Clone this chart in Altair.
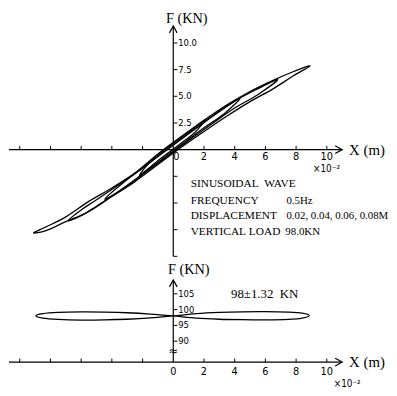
import altair as alt
import pandas as pd

# ---------------- data (X in 10^-2 m, F in kN) ----------------
# upper panel: four hysteresis loops (displacement 0.02, 0.04, 0.06, 0.08 m)
LOOP08_X = [8.9, 7.8, 6.5, 5.0, 3.5, 2.0, 0.5, -1.0, -2.5, -4.0, -5.5, -7.0, -8.3, -9.1,
            -8.3, -7.0, -5.5, -4.0, -2.5, -1.0, 0.5, 2.0, 3.5, 5.0, 6.5, 7.8]
LOOP08_F = [7.85, 7.3, 6.5, 5.45, 4.2, 2.75, 1.2, -0.4, -2.2, -3.6, -4.85, -6.3, -7.25, -7.8,
            -7.6, -6.75, -5.8, -4.4, -3.0, -1.4, 0.2, 1.7, 3.15, 4.5, 5.7, 6.9]

LOOP06_X = [6.8, 5.5, 4.0, 2.5, 1.0, -0.5, -2.0, -3.5, -5.0, -6.0, -6.85,
            -6.0, -5.0, -3.5, -2.0, -0.5, 1.0, 2.5, 4.0, 5.5]
LOOP06_F = [6.55, 5.7, 4.55, 3.05, 1.5, -0.1, -1.7, -3.25, -4.7, -5.65, -6.65,
            -6.2, -5.3, -3.85, -2.3, -0.75, 0.85, 2.4, 3.9, 5.15]

LOOP04_X = [4.35, 3.3, 2.0, 0.7, -0.7, -2.0, -3.3, -4.45, -3.3, -2.0, -0.7, 0.7, 2.0, 3.3]
LOOP04_F = [4.8, 3.9, 2.6, 1.2, -0.3, -1.75, -3.15, -4.65, -3.7, -2.3, -0.85, 0.65, 2.05, 3.35]

LOOP02_X = [2.1, 1.4, 0.7, 0.0, -0.7, -1.4, -2.2, -1.4, -0.7, 0.0, 0.7, 1.4]
LOOP02_F = [2.8, 2.1, 1.35, 0.6, -0.15, -0.95, -2.4, -1.5, -0.7, 0.05, 0.8, 1.6]

# lower panel: vertical load loop (98 +/- 1.32 kN)
VLOOP_X = [0.0, 1.5, 3.0, 4.5, 6.0, 7.5, 8.4, 8.85, 8.4, 7.5, 6.0, 4.5, 3.0, 1.5,
           0.0, -1.5, -3.0, -4.5, -6.0, -7.5, -8.5, -8.95, -8.5, -7.5, -6.0, -4.5, -3.0, -1.5]
VLOOP_F = [98.0, 98.7, 99.1, 99.3, 99.35, 99.2, 98.9, 98.15, 97.3, 96.9, 96.75, 96.8, 96.95, 97.3,
           98.0, 98.6, 99.0, 99.2, 99.25, 99.1, 98.7, 98.05, 97.3, 96.9, 96.7, 96.75, 96.95, 97.35]

# axes / ticks
X_TICKS = [-10, -8, -6, -4, -2, 2, 4, 6, 8, 10]
X_LABELS = ["0", "2", "4", "6", "8", "10"]
X_LABEL_VALUES = [0, 2, 4, 6, 8, 10]
TOP_Y_TICKS = [-10, -7.5, -5, -2.5, 2.5, 5, 7.5, 10]
TOP_Y_LABELS = ["2.5", "5.0", "7.5", "10.0"]
TOP_Y_LABEL_VALUES = [2.5, 5.0, 7.5, 10.0]
BOT_Y_TICKS = [90, 95, 100, 105]
BOT_Y_LABELS = ["90", "95", "100", "105"]

INFO_LEFT = ["SINUSOIDAL\u00a0\u00a0WAVE", "FREQUENCY", "DISPLACEMENT", "VERTICAL\u00a0LOAD"]
INFO_RIGHT = ["0.5Hz", "0.02, 0.04, 0.06, 0.08M", "98.0KN"]

# ---------------- scales ----------------
W = 385
X_DOM = [-10.7, 14.05]
xs = alt.Scale(domain=X_DOM, nice=False, zero=False)
ys_top = alt.Scale(domain=[-10.55, 12.95], nice=False, zero=False)
ys_bot = alt.Scale(domain=[74.4, 115.0], nice=False, zero=False)

INK = "#000000"
SERIF = "Liberation Serif"
NUMF = "DejaVu Sans Condensed, Liberation Sans Narrow, Liberation Sans"

RIGHT_ARROW = "M-1,-0.55L0,0L-1,0.55"
UP_ARROW = "M-0.55,1L0,0L0.55,1"


def X(f="x"):
    return alt.X(f"{f}:Q", scale=xs, axis=None)


def panel(ys, loops_df, axis_y, y_top, y_bottom, yticks, ylabels, ylabel_vals,
          tick_len_x, tick_len_y, zero_dx, label_dy, title_pos, xm_pos, exp_pos):
    Y = lambda f="y": alt.Y(f"{f}:Q", scale=ys, axis=None)
    layers = []
    # loops
    layers.append(
        alt.Chart(loops_df).mark_line(interpolate="cardinal-closed", color=INK, strokeWidth=1.3)
        .encode(x=X(), y=Y(), detail="loop:N", order="order:Q")
    )
    # axis lines
    ax = pd.DataFrame({"x": [X_DOM[0], 0], "x2": [11.0, 0], "y": [axis_y, y_bottom], "y2": [axis_y, y_top]})
    layers.append(alt.Chart(ax).mark_rule(color=INK, strokeWidth=1.2)
                  .encode(x=X(), x2="x2:Q", y=Y(), y2="y2:Q"))
    # arrows
    layers.append(alt.Chart(pd.DataFrame({"x": [11.0], "y": [axis_y]}))
                  .mark_point(shape=RIGHT_ARROW, size=200, filled=False, color=INK, strokeWidth=1.2, opacity=1)
                  .encode(x=X(), y=Y()))
    layers.append(alt.Chart(pd.DataFrame({"x": [0.0], "y": [y_top]}))
                  .mark_point(shape=UP_ARROW, size=200, filled=False, color=INK, strokeWidth=1.2, opacity=1)
                  .encode(x=X(), y=Y()))
    # x ticks
    xt = pd.DataFrame({"x": X_TICKS, "y": [axis_y] * len(X_TICKS), "y2": [axis_y + tick_len_x] * len(X_TICKS)})
    layers.append(alt.Chart(xt).mark_rule(color=INK, strokeWidth=1)
                  .encode(x=X(), y=Y(), y2="y2:Q"))
    # y ticks
    yt = pd.DataFrame({"x": [0.0] * len(yticks), "x2": [tick_len_y] * len(yticks), "y": yticks})
    layers.append(alt.Chart(yt).mark_rule(color=INK, strokeWidth=1)
                  .encode(x=X(), x2="x2:Q", y=Y()))
    # x labels
    xl = pd.DataFrame({"x": X_LABEL_VALUES, "y": [axis_y] * 6, "t": X_LABELS})
    layers.append(alt.Chart(xl[xl.x != 0]).mark_text(font=NUMF, fontSize=11, color=INK, dy=label_dy)
                  .encode(x=X(), y=Y(), text="t:N"))
    layers.append(alt.Chart(xl[xl.x == 0]).mark_text(font=NUMF, fontSize=11, color=INK, dy=label_dy, dx=zero_dx)
                  .encode(x=X(), y=Y(), text="t:N"))
    # y labels
    yl = pd.DataFrame({"x": [0.0] * len(ylabels), "y": ylabel_vals, "t": ylabels})
    layers.append(alt.Chart(yl).mark_text(font=NUMF, fontSize=9.5, color=INK, align="left", dx=5)
                  .encode(x=X(), y=Y(), text="t:N"))
    # axis titles
    layers.append(alt.Chart(pd.DataFrame({"x": [title_pos[0]], "y": [title_pos[1]], "t": ["F (KN)"]}))
                  .mark_text(font=SERIF, fontSize=14.5, color=INK, align="left")
                  .encode(x=X(), y=Y(), text="t:N"))
    layers.append(alt.Chart(pd.DataFrame({"x": [xm_pos[0]], "y": [xm_pos[1]], "t": ["X (m)"]}))
                  .mark_text(font=SERIF, fontSize=15, color=INK, align="left")
                  .encode(x=X(), y=Y(), text="t:N"))
    layers.append(alt.Chart(pd.DataFrame({"x": [exp_pos[0]], "y": [exp_pos[1]], "t": ["\u00d710\u207b\u00b2"]}))
                  .mark_text(font=NUMF, fontSize=10, color=INK, align="left")
                  .encode(x=X(), y=Y(), text="t:N"))
    return layers


def loops_frame(pairs):
    rows = []
    for name, xsv, fsv in pairs:
        for i, (a, b) in enumerate(zip(xsv, fsv)):
            rows.append({"loop": name, "order": i, "x": a, "y": b})
    return pd.DataFrame(rows)


top_loops = loops_frame([("0.08", LOOP08_X, LOOP08_F), ("0.06", LOOP06_X, LOOP06_F),
                         ("0.04", LOOP04_X, LOOP04_F), ("0.02", LOOP02_X, LOOP02_F)])
bot_loops = loops_frame([("v", VLOOP_X, VLOOP_F)])

top_layers = panel(ys_top, top_loops, 0.0, 11.6, -10.0, TOP_Y_TICKS, TOP_Y_LABELS, TOP_Y_LABEL_VALUES,
                   0.35, 0.27, 3, 8, (-0.48, 12.25), (11.45, 0.0), (9.1, -1.8))

Yt = alt.Y("y:Q", scale=ys_top, axis=None)
info_l = pd.DataFrame({"x": [1.13] * 4, "y": [-3.24, -4.8, -6.2, -7.7], "t": INFO_LEFT})
info_r = pd.DataFrame({"x": [7.37, 7.37, 7.3], "y": [-4.8, -6.2, -7.7], "t": INFO_RIGHT})
top_layers.append(alt.Chart(info_l).mark_text(font=SERIF, fontSize=11.5, color=INK, align="left")
                  .encode(x=X(), y=Yt, text="t:N"))
top_layers.append(alt.Chart(info_r).mark_text(font=SERIF, fontSize=11, color=INK, align="left")
                  .encode(x=X(), y=Yt, text="t:N"))

top = alt.layer(*top_layers).properties(width=W, height=254)

AX_B = 83.4
bot_layers = panel(ys_bot, bot_loops, AX_B, 109.4, AX_B, BOT_Y_TICKS, BOT_Y_LABELS, BOT_Y_TICKS,
                   1.1, 0.27, 0, 10, (-0.35, 112.5), (11.45, AX_B), (10.45, 76.6))
Yb = alt.Y("y:Q", scale=ys_bot, axis=None)
bot_layers.append(alt.Chart(pd.DataFrame({"x": [0.0], "y": [86.9], "t": ["\u2248"]}))
                  .mark_text(font="DejaVu Sans", fontSize=12, color=INK)
                  .encode(x=X(), y=Yb, text="t:N"))
bot_layers.append(alt.Chart(pd.DataFrame({"x": [3.76], "y": [105.0], "t": ["98\u00b11.32\u00a0 KN"]}))
                  .mark_text(font=SERIF, fontSize=13, color=INK, align="left")
                  .encode(x=X(), y=Yb, text="t:N"))
bottom = alt.layer(*bot_layers).properties(width=W, height=130)

chart = (alt.vconcat(top, bottom, spacing=0)
         .properties(padding=0, background="white")
         .configure_view(stroke=None))

chart.save("out.html", embed_options={"renderer": "svg", "actions": False})
